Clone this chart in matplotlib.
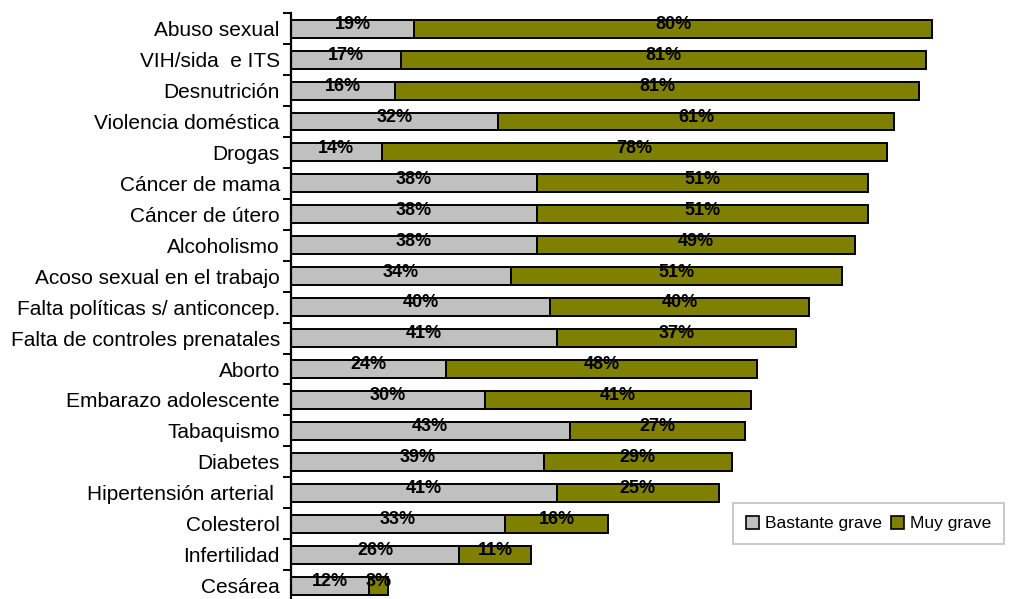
import numpy as np
import matplotlib
matplotlib.use('Agg')
import matplotlib.pyplot as plt
from matplotlib.patches import Patch

plt.rcParams['font.family'] = ['Liberation Sans Narrow', 'Liberation Sans', 'DejaVu Sans']

# ── data (top to bottom) ──
categories = [
    'Abuso sexual', 'VIH/sida  e ITS', 'Desnutrición', 'Violencia doméstica',
    'Drogas', 'Cáncer de mama', 'Cáncer de útero', 'Alcoholismo',
    'Acoso sexual en el trabajo', 'Falta políticas s/ anticoncep.',
    'Falta de controles prenatales', 'Aborto', 'Embarazo adolescente',
    'Tabaquismo', 'Diabetes', 'Hipertensión arterial ', 'Colesterol',
    'Infertilidad', 'Cesárea',
]
bastante = [19, 17, 16, 32, 14, 38, 38, 38, 34, 40, 41, 24, 30, 43, 39, 41, 33, 26, 12]
muy = [80, 81, 81, 61, 78, 51, 51, 49, 51, 40, 37, 48, 41, 27, 29, 25, 16, 11, 3]

GRAY = '#C0C0C0'
OLIVE = '#808000'

fig = plt.figure(figsize=(10.12, 5.99), dpi=100)
ax = fig.add_axes([0.2875, -0.0035, 0.6403, 0.9815])

n = len(categories)
y = np.arange(n)
b = np.array(bastante)
m = np.array(muy)

ax.barh(y, b, height=0.58, color=GRAY, edgecolor='black', linewidth=1.4)
ax.barh(y, m, left=b, height=0.58, color=OLIVE, edgecolor='black', linewidth=1.4)

for yi, bi, mi in zip(y, b, m):
    ax.annotate(f'{bi}%', (bi / 2, yi), xytext=(0, 3), textcoords='offset points',
                ha='center', va='center', fontsize=13, fontweight='bold')
    ax.annotate(f'{mi}%', (bi + mi / 2, yi), xytext=(0, 3), textcoords='offset points',
                ha='center', va='center', fontsize=13, fontweight='bold')

ax.set_xlim(0, 100)
ax.set_ylim(n - 0.5, -0.5)
ax.set_yticks(y)
ax.set_yticklabels(categories, fontsize=15)
ax.set_yticks(np.arange(-0.5, n - 0.5, 1), minor=True)
ax.tick_params(axis='y', which='major', length=0, pad=8)
ax.tick_params(axis='y', which='minor', length=6, width=1.4, direction='out')
ax.set_xticks([])
for s in ['top', 'right', 'bottom']:
    ax.spines[s].set_visible(False)
ax.spines['left'].set_linewidth(1.6)

# legend (box partly runs to the right edge like the reference)
handles = [Patch(facecolor=GRAY, edgecolor='black', linewidth=1.2, label='Bastante grave'),
           Patch(facecolor=OLIVE, edgecolor='black', linewidth=1.2, label='Muy grave')]
leg = fig.legend(handles=handles, loc='upper left', bbox_to_anchor=(733 / 1012, 1 - 503 / 599),
                 ncol=2, fontsize=12.5, frameon=True, fancybox=False, edgecolor='#B0B0B0',
                 handlelength=0.75, handleheight=0.75, handletextpad=0.35, columnspacing=0.5,
                 borderpad=0.75, borderaxespad=0)
leg.get_frame().set_linewidth(1.2)

plt.savefig('out.png', dpi=100)
